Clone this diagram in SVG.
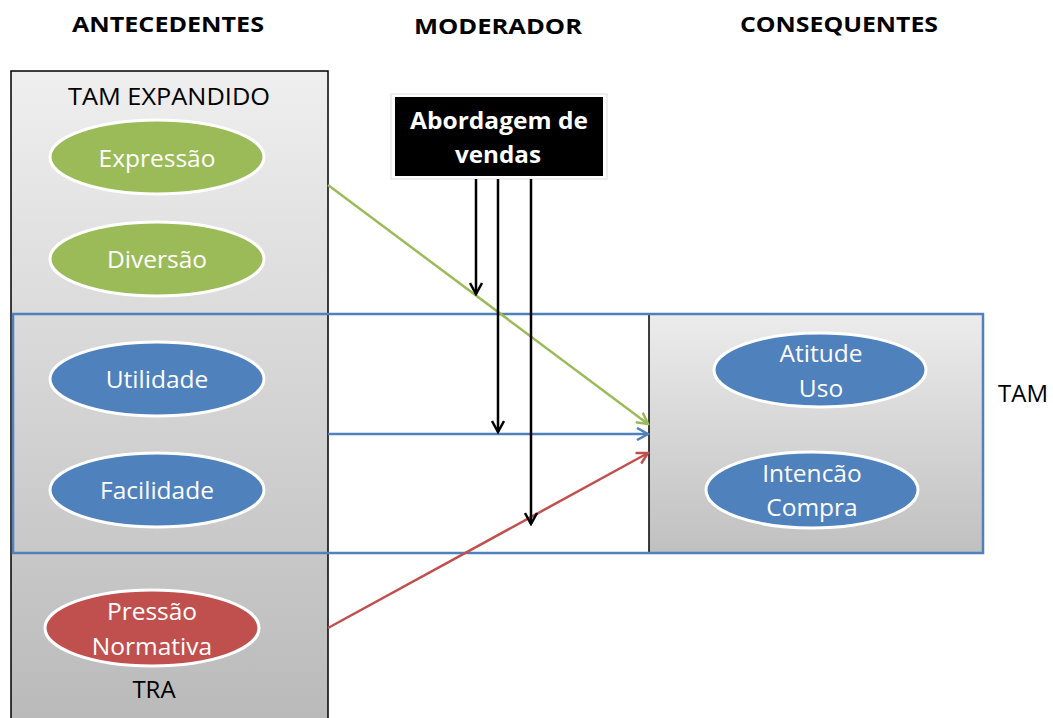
<svg xmlns="http://www.w3.org/2000/svg" width="1053" height="718" viewBox="0 0 1053 718">
<defs>
<linearGradient id="gLeft" x1="0" y1="0" x2="0" y2="1">
<stop offset="0" stop-color="#efefef"/><stop offset="1" stop-color="#b9b9b9"/>
</linearGradient>
<linearGradient id="gRight" x1="0" y1="0" x2="0" y2="1">
<stop offset="0" stop-color="#ececec"/><stop offset="1" stop-color="#c0c0c0"/>
</linearGradient>
<marker id="mBlue" markerWidth="14" markerHeight="14" refX="12" refY="7" orient="auto" markerUnits="userSpaceOnUse" viewBox="0 0 14 14"><path d="M1,1 L12,7 L1,13" fill="none" stroke="#4f81bd" stroke-width="2.5"/></marker>
<marker id="mGreen2" markerWidth="14" markerHeight="14" refX="12" refY="7" orient="auto" markerUnits="userSpaceOnUse" viewBox="0 0 14 14"><path d="M1,1 L12,7 L1,13" fill="none" stroke="#9bbb59" stroke-width="2.5"/></marker>
<marker id="mRed" markerWidth="14" markerHeight="14" refX="12" refY="7" orient="auto" markerUnits="userSpaceOnUse" viewBox="0 0 14 14"><path d="M1,1 L12,7 L1,13" fill="none" stroke="#c0504d" stroke-width="2.5"/></marker>
<marker id="mBlack" markerWidth="14" markerHeight="14" refX="12" refY="7" orient="auto" markerUnits="userSpaceOnUse" viewBox="0 0 14 14"><path d="M1,1 L12,7 L1,13" fill="none" stroke="#000" stroke-width="2.5"/></marker>
</defs>
<style>
.hdr{font-family:"Open Sans","Liberation Sans",Arial,sans-serif;font-weight:bold;font-size:21px;fill:#000;text-anchor:middle}
.lbl{font-family:"Open Sans","Liberation Sans",sans-serif;font-size:24px;fill:#000;text-anchor:middle}
.el{stroke:#fff;stroke-width:3}
.et{font-family:"Open Sans","Liberation Sans",sans-serif;font-size:24.5px;fill:#fff;text-anchor:middle}
.green{fill:#9bbb59}.blue{fill:#4f81bd}.red{fill:#c0504d}
</style>
<rect width="1053" height="718" fill="#fff"/>
<g id="headers">
<text class="hdr" x="168" y="32" textLength="192" lengthAdjust="spacingAndGlyphs">ANTECEDENTES</text>
<text class="hdr" x="498" y="34" textLength="168" lengthAdjust="spacingAndGlyphs">MODERADOR</text>
<text class="hdr" x="839" y="32" textLength="198" lengthAdjust="spacingAndGlyphs">CONSEQUENTES</text>
</g>
<g id="antecedentes-panel">
<rect x="11" y="71" width="317" height="660" fill="url(#gLeft)" stroke="#000" stroke-width="1.5"/>
<text class="lbl" x="169" y="105" textLength="202" lengthAdjust="spacingAndGlyphs">TAM EXPANDIDO</text>
<text class="lbl" x="154" y="698">TRA</text>
</g>
<g id="consequentes-panel">
<rect x="649" y="314" width="334" height="239" fill="url(#gRight)"/>
<line x1="649" y1="314" x2="649" y2="553" stroke="#000" stroke-width="1.5"/>
</g>
<g id="tam-frame">
<rect x="13" y="314" width="970" height="239" fill="none" stroke="#4f81bd" stroke-width="2.5"/>
<text class="lbl" x="1023" y="402">TAM</text>
</g>
<g id="expressao"><ellipse class="el green" cx="157" cy="157" rx="107" ry="37"/><text class="et" x="157" y="167">Expressão</text></g>
<g id="diversao"><ellipse class="el green" cx="157" cy="259" rx="107" ry="37"/><text class="et" x="157" y="268">Diversão</text></g>
<g id="utilidade"><ellipse class="el blue" cx="157" cy="379" rx="107" ry="37"/><text class="et" x="157" y="388">Utilidade</text></g>
<g id="facilidade"><ellipse class="el blue" cx="157" cy="490" rx="107" ry="37"/><text class="et" x="157" y="499">Facilidade</text></g>
<g id="pressao"><ellipse class="el red" cx="152" cy="628" rx="107" ry="38"/><text class="et" x="152" y="620">Pressão</text><text class="et" x="152" y="655">Normativa</text></g>
<g id="atitude"><ellipse class="el blue" cx="820" cy="370" rx="106" ry="37"/><text class="et" x="821" y="362">Atitude</text><text class="et" x="821" y="397">Uso</text></g>
<g id="intencao"><ellipse class="el blue" cx="812" cy="490" rx="106" ry="38"/><text class="et" x="812" y="482">Intencão</text><text class="et" x="812" y="516">Compra</text></g>
<g id="moderador">
<rect x="391" y="94" width="216" height="85" fill="#fff" stroke="#ddd" stroke-width="1"/>
<rect x="395" y="97" width="208" height="79" fill="#000"/>
<text x="499" y="129" font-family="'Open Sans','Liberation Sans',sans-serif" font-weight="bold" font-size="23" fill="#fff" text-anchor="middle" textLength="178" lengthAdjust="spacingAndGlyphs">Abordagem de</text>
<text x="498" y="163" font-family="'Open Sans','Liberation Sans',sans-serif" font-weight="bold" font-size="23" fill="#fff" text-anchor="middle" textLength="86" lengthAdjust="spacingAndGlyphs">vendas</text>
</g>
<g id="connectors" fill="none">
<line x1="328" y1="185" x2="648" y2="424" stroke="#9bbb59" stroke-width="2.5" marker-end="url(#mGreen2)"/>
<line x1="328" y1="434" x2="648" y2="434" stroke="#4f81bd" stroke-width="2.5" marker-end="url(#mBlue)"/>
<line x1="328" y1="628" x2="648" y2="453" stroke="#c0504d" stroke-width="2.5" marker-end="url(#mRed)"/>
<line x1="476" y1="179" x2="476" y2="294" stroke="#000" stroke-width="2.5" marker-end="url(#mBlack)"/>
<line x1="498" y1="179" x2="498" y2="432" stroke="#000" stroke-width="2.5" marker-end="url(#mBlack)"/>
<line x1="531" y1="179" x2="531" y2="524" stroke="#000" stroke-width="2.5" marker-end="url(#mBlack)"/>
</g>
</svg>
